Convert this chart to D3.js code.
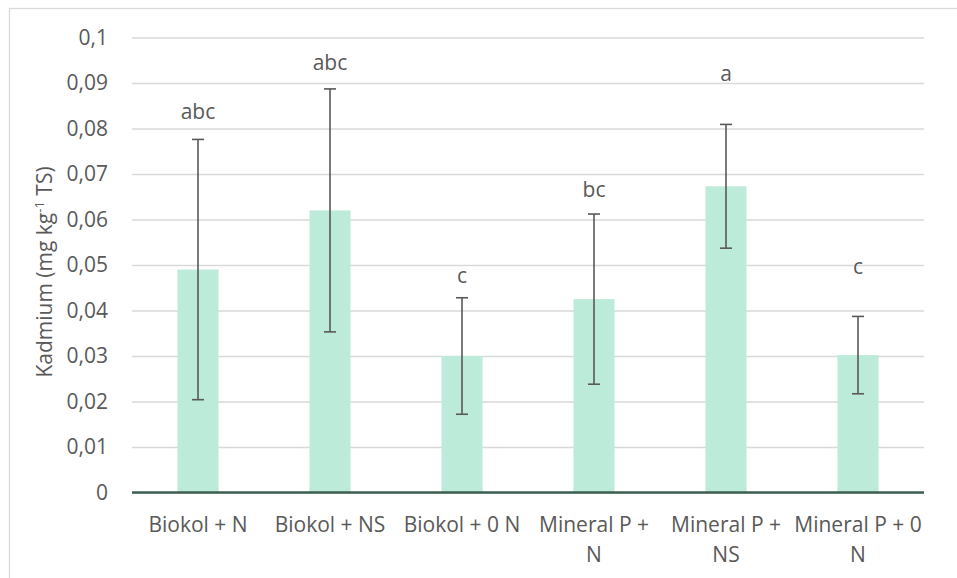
<!DOCTYPE html>
<html lang="sv">
<head>
    <meta charset="UTF-8">
    <title>Kadmium</title>
    <script src="https://d3js.org/d3.v7.min.js"></script>
    <style>
        body { margin: 0; background: #fff; }
        text { font-family: "Open Sans", sans-serif; fill: #595959; }
    </style>
</head>
<body>
    <script>
        // Data
        const categories = ["Biokol + N", "Biokol + NS", "Biokol + 0 N", "Mineral P + N", "Mineral P + NS", "Mineral P + 0 N"];
        const tickLabels = [["Biokol + N"], ["Biokol + NS"], ["Biokol + 0 N"], ["Mineral P +", "N"], ["Mineral P +", "NS"], ["Mineral P + 0", "N"]];
        const means = [0.0490, 0.0620, 0.0300, 0.0425, 0.0673, 0.0302];
        const errors = [0.0286, 0.0267, 0.0128, 0.0187, 0.0136, 0.0085];
        const letters = ["abc", "abc", "c", "bc", "a", "c"];
        const letterY = [0.0838, 0.0944, 0.0476, 0.0665, 0.0920, 0.0496];
        const yTicks = [0, 0.01, 0.02, 0.03, 0.04, 0.05, 0.06, 0.07, 0.08, 0.09, 0.1];

        const W = 957, H = 578;
        const plot = { left: 132, right: 924, top: 37.5, bottom: 492.5 };
        const fs = 21;

        const svg = d3.select("body").append("svg")
            .attr("width", W)
            .attr("height", H);

        // chart area border
        svg.append("rect")
            .attr("x", 9.5).attr("y", 8.5)
            .attr("width", 960).attr("height", 600)
            .attr("fill", "none")
            .attr("stroke", "#d9d9d9")
            .attr("stroke-width", 1.3);

        const x = d3.scaleBand()
            .domain(categories)
            .range([plot.left, plot.right])
            .paddingInner(0.689)
            .paddingOuter(0.689 / 2);

        const y = d3.scaleLinear()
            .domain([0, 0.1])
            .range([plot.bottom, plot.top]);

        const fmt = d => String(d).replace(".", ",");

        // gridlines + y labels
        const yAxis = svg.append("g")
            .attr("transform", `translate(${plot.left},0)`)
            .call(d3.axisLeft(y).tickValues(yTicks).tickSize(-(plot.right - plot.left)).tickPadding(24).tickFormat(fmt));
        yAxis.select(".domain").remove();
        yAxis.selectAll(".tick line").attr("stroke", "#d9d9d9").attr("stroke-width", 1.3);
        yAxis.selectAll(".tick text")
            .attr("font-size", fs)
            .style("font-family", "'Open Sans', sans-serif")
            .attr("fill", "#595959");

        // bars
        svg.selectAll(".bar")
            .data(categories)
            .enter().append("rect")
            .attr("class", "bar")
            .attr("x", d => x(d))
            .attr("y", (d, i) => y(means[i]))
            .attr("width", x.bandwidth())
            .attr("height", (d, i) => y(0) - y(means[i]))
            .attr("fill", "#bdebd9");

        // baseline
        svg.append("line")
            .attr("x1", plot.left).attr("x2", plot.right)
            .attr("y1", y(0)).attr("y2", y(0))
            .attr("stroke", "#3b5f51")
            .attr("stroke-width", 2.5);

        // error bars
        const eb = svg.selectAll(".err")
            .data(categories)
            .enter().append("g")
            .attr("class", "err")
            .attr("stroke", "#595959")
            .attr("stroke-width", 1.6);
        const cx = d => x(d) + x.bandwidth() / 2;
        eb.append("line")
            .attr("x1", cx).attr("x2", cx)
            .attr("y1", (d, i) => y(means[i] + errors[i]))
            .attr("y2", (d, i) => y(means[i] - errors[i]));
        eb.append("line")
            .attr("x1", d => cx(d) - 6).attr("x2", d => cx(d) + 6)
            .attr("y1", (d, i) => y(means[i] + errors[i]))
            .attr("y2", (d, i) => y(means[i] + errors[i]));
        eb.append("line")
            .attr("x1", d => cx(d) - 6).attr("x2", d => cx(d) + 6)
            .attr("y1", (d, i) => y(means[i] - errors[i]))
            .attr("y2", (d, i) => y(means[i] - errors[i]));

        // significance letters
        svg.selectAll(".letter")
            .data(categories)
            .enter().append("text")
            .attr("class", "letter")
            .attr("x", cx)
            .attr("y", (d, i) => y(letterY[i]))
            .attr("dy", "0.35em")
            .attr("text-anchor", "middle")
            .attr("font-size", fs)
            .attr("fill", "#404040")
            .text((d, i) => letters[i]);

        // x category labels
        categories.forEach((c, i) => {
            const t = svg.append("text")
                .attr("text-anchor", "middle")
                .attr("font-size", fs)
                .attr("y", 532);
            tickLabels[i].forEach((ln, j) => {
                t.append("tspan")
                    .attr("x", cx(c))
                    .attr("dy", j === 0 ? 0 : 30)
                    .text(ln);
            });
        });

        // y axis title
        const yt = svg.append("text")
            .attr("transform", `translate(52,272) rotate(-90)`)
            .attr("text-anchor", "middle")
            .attr("font-size", fs)
            .attr("fill", "#595959");
        yt.append("tspan").text("Kadmium (mg kg");
        yt.append("tspan").attr("font-size", 13).attr("dy", -8).text("-1");
        yt.append("tspan").attr("dy", 8).text(" TS)");
    </script>
</body>
</html>
